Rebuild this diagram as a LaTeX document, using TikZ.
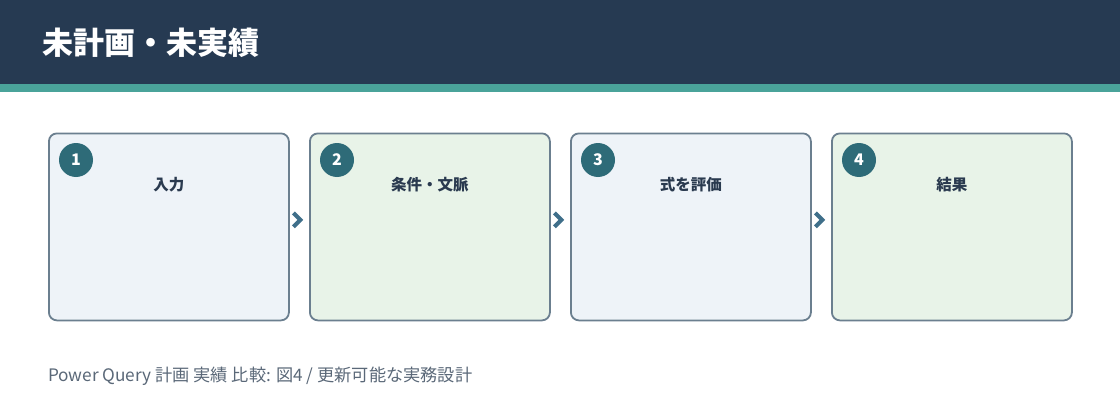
\documentclass[tikz,border=0pt]{standalone}
\usepackage{fontspec}
\setmainfont{Noto Sans CJK JP}
\usetikzlibrary{calc}
\definecolor{navy}{HTML}{263A52}
\definecolor{teal}{HTML}{4AA39A}
\definecolor{boxline}{HTML}{6B7F8F}
\definecolor{fillblue}{HTML}{EEF3F8}
\definecolor{fillgreen}{HTML}{E8F3E8}
\definecolor{badge}{HTML}{2E6B78}
\definecolor{labeltext}{HTML}{2A3A4F}
\definecolor{chev}{HTML}{3F6F8A}
\definecolor{foot}{HTML}{5A6878}
\begin{document}
\begin{tikzpicture}[x=1pt,y=-1pt,
  stepbox/.style={draw=boxline,line width=1.8pt,rounded corners=8pt,minimum width=240pt,minimum height=187pt,anchor=north west,inner sep=0pt},
  badgenode/.style={circle,fill=badge,minimum size=34pt,inner sep=0pt,text=white,font=\fontsize{16}{16}\selectfont\bfseries},
  steplabel/.style={text=labeltext,font=\fontsize{15.5}{16}\selectfont\bfseries,anchor=center},
  chevline/.style={draw=chev,line width=4pt,line cap=butt,line join=miter}
]
\useasboundingbox (0,0) rectangle (1120,420);
\fill[white] (0,0) rectangle (1120,420);
\fill[navy] (0,0) rectangle (1120,84);
\fill[teal] (0,84) rectangle (1120,92);
\node[anchor=west,text=white,font=\fontsize{31}{32}\selectfont\bfseries,inner sep=0pt] (title) at (42,43) {未計画・未実績};

\node[stepbox,fill=fillblue] (b1) at (48,132.5) {};
\node[stepbox,fill=fillgreen] (b2) at (309,132.5) {};
\node[stepbox,fill=fillblue] (b3) at (570,132.5) {};
\node[stepbox,fill=fillgreen] (b4) at (831,132.5) {};

\foreach \i/\t in {1/入力,2/条件・文脈,3/式を評価,4/結果}{
  \node[badgenode] (c\i) at ($(b\i.north west)+(28,27.5)$) {\i};
  \node[steplabel] (l\i) at ($(b\i.north)+(0,52.5)$) {\t};
}

\foreach \a/\b in {1/2,2/3,3/4}{
  \coordinate (m\a) at ($(b\a.east)!0.5!(b\b.west)+(-2,-7)$);
  \draw[chevline] ($(m\a)+(-4,-7)$) -- ($(m\a)+(3,0)$) -- ($(m\a)+(-4,7)$);
}

\node[anchor=west,text=foot,font=\fontsize{17.2}{18}\selectfont,inner sep=0pt] (footer) at (48,376) {Power Query 計画 実績 比較: 図4 / 更新可能な実務設計};
\end{tikzpicture}
\end{document}
